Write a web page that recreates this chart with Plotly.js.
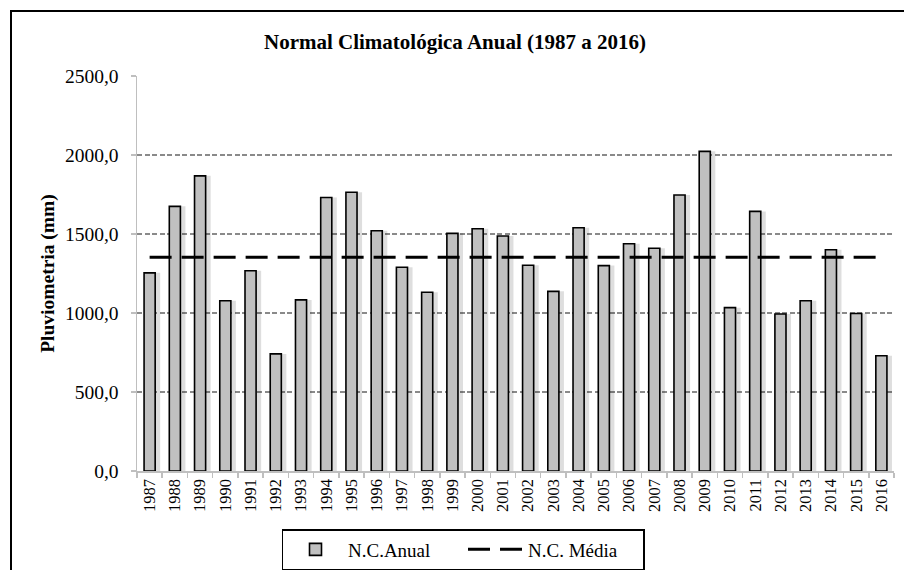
<!DOCTYPE html>
<html>
<head>
<meta charset="utf-8">
<script src="https://cdn.plot.ly/plotly-3.0.1.min.js"></script>
<style>
html,body{margin:0;padding:0;background:#fff;overflow:hidden;}
#wrap{position:relative;width:904px;height:570px;overflow:hidden;}
#chart{width:904px;height:570px;}
#frame{position:absolute;left:10px;top:10px;width:920px;height:600px;border:2px solid #000;pointer-events:none;box-sizing:border-box;}
</style>
</head>
<body>
<div id="wrap"><div id="chart"></div><div id="frame"></div></div>
<script>
const years = ['1987','1988','1989','1990','1991','1992','1993','1994','1995','1996',
               '1997','1998','1999','2000','2001','2002','2003','2004','2005','2006',
               '2007','2008','2009','2010','2011','2012','2013','2014','2015','2016'];
const ncAnual = [1254,1675,1868,1078,1267,741,1083,1731,1764,1521,
                 1290,1131,1504,1533,1487,1302,1137,1540,1300,1438,
                 1410,1747,2023,1034,1643,994,1078,1400,997,729];
const ncMedia = [1353,1353,1353,1353,1353,1353,1353,1353,1353,1353,
                 1353,1353,1353,1353,1353,1353,1353,1353,1353,1353,
                 1353,1353,1353,1353,1353,1353,1353,1353,1353,1353];
const yTicks = [0,500,1000,1500,2000,2500];

const serif = 'Liberation Serif, Times New Roman, serif';

const traces = [
  {type:'bar', x:years, y:ncAnual, width:0.44, offset:-0.02,
   marker:{color:'rgba(0,0,0,0.13)', line:{width:0}}, showlegend:false, hoverinfo:'skip'},
  {type:'bar', name:'N.C.Anual', x:years, y:ncAnual, width:0.44, offset:-0.22,
   marker:{color:'#c0c0c0', line:{color:'#000', width:1.6}}},
  {type:'scatter', mode:'lines', name:'N.C. Média', x:years, y:ncMedia,
   line:{color:'#000', width:3, dash:'22px,10px'}}
];

const layout = {
  width:904, height:570,
  margin:{l:137, r:10, t:76, b:99},
  paper_bgcolor:'#fff', plot_bgcolor:'#fff',
  font:{family:serif, size:16, color:'#000'},
  separators:',.',
  barmode:'overlay',
  title:{text:'<b>Normal Climatológica Anual (1987 a 2016)</b>', font:{family:serif, size:21, color:'#000'},
         x:455/904, xref:'container', xanchor:'center', y:1-42/570, yref:'container', yanchor:'middle'},
  xaxis:{type:'category', tickangle:-90, showgrid:false, showline:true, linecolor:'#bfbfbf', linewidth:1.5,
         ticks:'outside', tickson:'boundaries', ticklen:5, tickcolor:'#bfbfbf', tickwidth:1.5,
         tickfont:{family:serif, size:16.5, color:'#000'}, range:[-0.5,29.5], zeroline:false},
  yaxis:{range:[0,2500], tickvals:yTicks, tickformat:'.1f', showgrid:true, gridcolor:'#8a8a8a', gridwidth:1.5,
         griddash:'5px,2.5px', showline:true, linecolor:'#bfbfbf', linewidth:1.5, ticks:'outside', ticklen:5,
         tickcolor:'#bfbfbf', tickwidth:1.5, zeroline:false, ticklabelstandoff:8,
         tickfont:{family:serif, size:19.5, color:'#000'},
         title:{text:'<b>Pluviometria (mm)</b>', font:{family:serif, size:19.5, color:'#000'}, standoff:5}},
  legend:{orientation:'h', xref:'container', x:463/904, xanchor:'center', yref:'container', y:1-529/570, yanchor:'top',
          bordercolor:'#000', borderwidth:1.5, bgcolor:'#fff', font:{family:serif, size:19, color:'#000'},
          traceorder:'normal', itemwidth:55, entrywidth:110, entrywidthmode:'pixels'}
};

Plotly.newPlot('chart', traces, layout, {displayModeBar:false, staticPlot:true});
</script>
</body>
</html>
